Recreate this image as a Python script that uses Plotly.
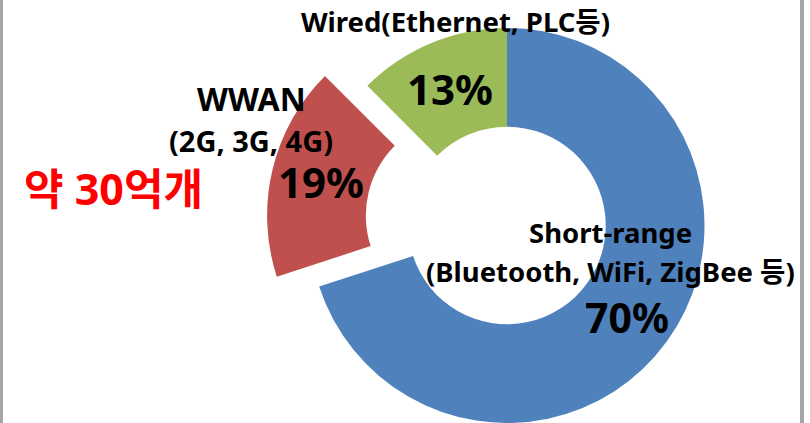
import plotly.graph_objects as go

# slice shares as they are drawn, and the percentage labels printed on them
categories = ["Short-range", "WWAN", "Wired"]
shares = [70, 17.5, 12.5]
pct_labels = ["70%", "19%", "13%"]
colors = ["#4F81BD", "#C0504D", "#9BBB59"]

FONT = "Noto Sans, Noto Sans CJK KR, sans-serif"
W, H = 810, 423


def px_x(v):
    return v / W


def px_y(v):
    return 1 - v / H


fig = go.Figure()

# main donut: blue and green in place, red left empty (drawn pulled out below)
fig.add_trace(go.Pie(
    labels=categories,
    values=shares,
    hole=0.5,
    sort=False,
    direction="clockwise",
    rotation=0,
    textinfo="none",
    marker=dict(colors=[colors[0], "rgba(0,0,0,0)", colors[2]], line=dict(width=0)),
    domain=dict(x=[px_x(309.5), px_x(704.5)], y=[0, px_y(28)]),
    showlegend=False,
))

# exploded WWAN slice, same radius, centre shifted along its bisector
fig.add_trace(go.Pie(
    labels=categories,
    values=shares,
    hole=0.5,
    sort=False,
    direction="clockwise",
    rotation=0,
    textinfo="none",
    marker=dict(colors=["rgba(0,0,0,0)", colors[1], "rgba(0,0,0,0)"], line=dict(width=0)),
    domain=dict(x=[px_x(267.1), px_x(662.1)], y=[px_y(413.1), px_y(18.1)]),
    showlegend=False,
))

texts = [
    ("Wired(Ethernet, PLC등)", 455, 22, 27.5, "black"),
    ("WWAN", 251, 98, 32, "black"),
    ("(2G, 3G, 4G)", 251, 141, 29, "black"),
    ("Short-range", 610, 232, 27.5, "black"),
    ("(Bluetooth, WiFi, ZigBee 등)", 610, 271, 27.5, "black"),
    ("약 30억개", 113, 188, 43, "#FF0000"),
    (pct_labels[0], 627, 317, 41, "black"),
    (pct_labels[1], 321, 182, 42, "black"),
    (pct_labels[2], 450, 89, 42, "black"),
]
for t, x, y, size, col in texts:
    fig.add_annotation(
        text="<b>%s</b>" % t, x=px_x(x), y=px_y(y), xref="paper", yref="paper",
        xanchor="center", yanchor="middle", showarrow=False, borderpad=0,
        font=dict(family=FONT, size=size, color=col),
    )

# grey frame edges on left and right
for x0, x1 in [(0, 3), (800, 804)]:
    fig.add_shape(type="rect", xref="paper", yref="paper",
                  x0=px_x(x0), x1=px_x(x1), y0=0, y1=1,
                  fillcolor="#A6A6A6", line=dict(width=0))

fig.update_layout(
    width=W, height=H,
    margin=dict(l=0, r=0, t=0, b=0),
    paper_bgcolor="white",
    plot_bgcolor="white",
)

fig.write_html("out.html", config={"displayModeBar": False},
               post_script="document.body.style.margin='0';")
